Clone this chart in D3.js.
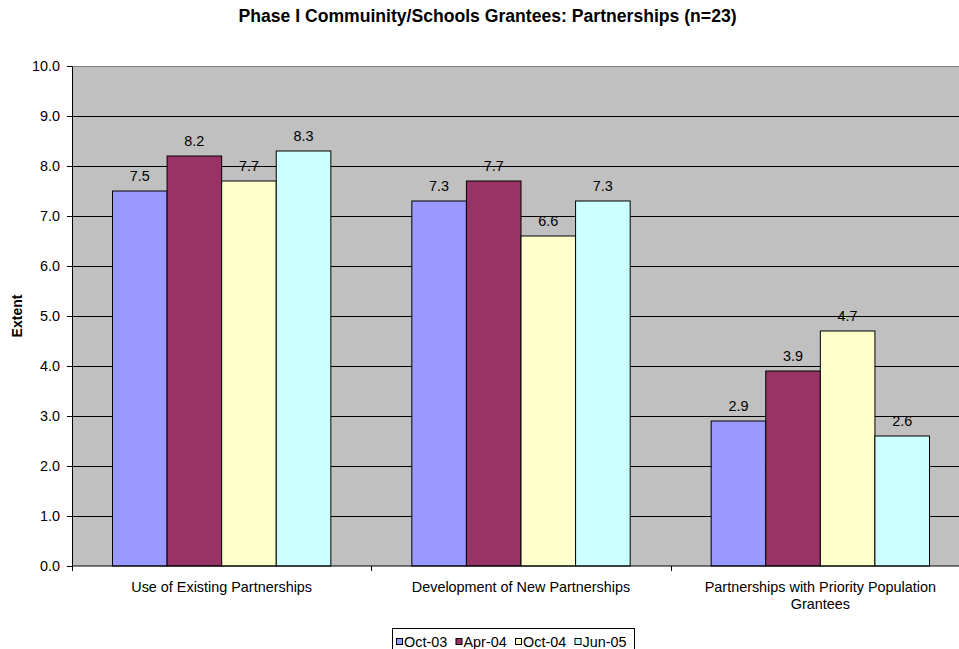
<!DOCTYPE html>
<html>
<head>
<meta charset="utf-8">
<script src="https://cdn.jsdelivr.net/npm/d3@7"></script>
<style>
  html, body { margin: 0; padding: 0; background: #fff; }
  svg { display: block; font-family: Arial, "Liberation Sans", sans-serif; }
</style>
</head>
<body>
<svg id="chart" width="959" height="649"></svg>
<script>
// Chart data
const categories = ["Use of Existing Partnerships", "Development of New Partnerships", "Partnerships with Priority Population Grantees"];
const seriesNames = ["Oct-03", "Apr-04", "Oct-04", "Jun-05"];
const seriesColors = ["#9999FF", "#993366", "#FFFFCC", "#CCFFFF"];
const oct03 = [7.5, 7.3, 2.9];
const apr04 = [8.2, 7.7, 3.9];
const oct04 = [7.7, 6.6, 4.7];
const jun05 = [8.3, 7.3, 2.6];
const yTicks = [0, 1, 2, 3, 4, 5, 6, 7, 8, 9, 10];

const seriesValues = [oct03, apr04, oct04, jun05];
const FS = 14.4;

const svg = d3.select("#chart");
const margin = { left: 72, top: 66, right: -11, bottom: 83 };
const W = 959, H = 649;
const plotW = W - margin.left - margin.right;
const plotH = H - margin.top - margin.bottom;

const g = svg.append("g").attr("transform", `translate(${margin.left},${margin.top})`);

const x0 = d3.scaleBand().domain(categories).range([0, plotW]).paddingInner(0).paddingOuter(0);
const x1 = d3.scaleBand().domain(seriesNames).range([40.5, x0.bandwidth() - 40.5]).padding(0);
const y = d3.scaleLinear().domain([0, 10]).range([plotH, 0]);

// plot background
g.append("rect").attr("x", 0).attr("y", 0).attr("width", plotW).attr("height", plotH).attr("fill", "#C0C0C0");
g.append("line").attr("x1", 0).attr("x2", plotW).attr("y1", 0.5).attr("y2", 0.5).attr("stroke", "#808080").attr("stroke-width", 1);

// gridlines
g.append("g").selectAll("line").data(yTicks.filter(d => d > 0 && d < 10)).join("line")
  .attr("x1", 0).attr("x2", plotW)
  .attr("y1", d => Math.round(y(d)) + 0.5).attr("y2", d => Math.round(y(d)) + 0.5)
  .attr("stroke", "#000").attr("stroke-width", 1);

// bars with value labels
const groups = g.append("g").selectAll("g").data(categories).join("g")
  .attr("transform", c => `translate(${x0(c)},0)`);

groups.each(function(c, ci) {
  const grp = d3.select(this);
  seriesNames.forEach((s, si) => {
    const v = seriesValues[si][ci];
    grp.append("rect")
      .attr("x", x1(s)).attr("y", y(v))
      .attr("width", x1.bandwidth()).attr("height", y(0) - y(v))
      .attr("fill", seriesColors[si]).attr("stroke", "#000").attr("stroke-width", 1);
    grp.append("text")
      .attr("x", x1(s) + x1.bandwidth() / 2).attr("y", y(v) - 10)
      .attr("text-anchor", "middle").attr("font-size", FS).attr("fill", "#000")
      .text(v.toFixed(1));
  });
});

// y axis
const yAxis = g.append("g").call(d3.axisLeft(y).tickValues(yTicks).tickFormat(d3.format(".1f")).tickSize(5).tickSizeOuter(0));
yAxis.select(".domain").attr("stroke", "#000");
yAxis.selectAll(".tick line").attr("stroke", "#000");
yAxis.selectAll(".tick text").attr("font-size", FS).attr("fill", "#000")
  .attr("font-family", "Arial, 'Liberation Sans', sans-serif").attr("x", -12);

// x axis
const xAxisG = g.append("g").attr("transform", `translate(0,${plotH})`);
xAxisG.append("line").attr("x1", 0).attr("x2", plotW).attr("y1", 0).attr("y2", 0).attr("stroke", "#000");
xAxisG.selectAll("line.tk").data([0, 1, 2, 3]).join("line").attr("class", "tk")
  .attr("x1", i => Math.round(i * x0.step()) + 0.5).attr("x2", i => Math.round(i * x0.step()) + 0.5)
  .attr("y1", 0).attr("y2", 5).attr("stroke", "#000");

const catLines = [["Use of Existing Partnerships"], ["Development of New Partnerships"], ["Partnerships with Priority Population", "Grantees"]];
categories.forEach((c, i) => {
  const cx = x0(c) + x0.bandwidth() / 2;
  const t = xAxisG.append("text").attr("text-anchor", "middle").attr("font-size", FS).attr("fill", "#000")
    .attr("x", cx).attr("y", 26);
  catLines[i].forEach((ln, li) => {
    t.append("tspan").attr("x", cx).attr("dy", li === 0 ? 0 : 17).text(ln);
  });
});

// y axis title
svg.append("text").attr("transform", "translate(22,316) rotate(-90)")
  .attr("text-anchor", "middle").attr("font-size", 14).attr("font-weight", "bold").text("Extent");

// chart title
svg.append("text").attr("x", 487.5).attr("y", 22).attr("text-anchor", "middle")
  .attr("font-size", 17.6).attr("font-weight", "bold").text("Phase I Commuinity/Schools Grantees: Partnerships (n=23)");

// legend
const legend = svg.append("g").attr("transform", "translate(392,628)");
legend.append("rect").attr("x", 0.5).attr("y", 0.5).attr("width", 242).attr("height", 24).attr("fill", "#fff").attr("stroke", "#000");
const itemX = [4, 63.5, 123, 182.5];
seriesNames.forEach((s, i) => {
  legend.append("rect").attr("x", itemX[i] + 0.5).attr("y", 10.5).attr("width", 6).attr("height", 6)
    .attr("fill", seriesColors[i]).attr("stroke", "#000");
  legend.append("text").attr("x", itemX[i] + 8).attr("y", 18.5).attr("font-size", FS).attr("fill", "#000").text(s);
});
</script>
</body>
</html>
